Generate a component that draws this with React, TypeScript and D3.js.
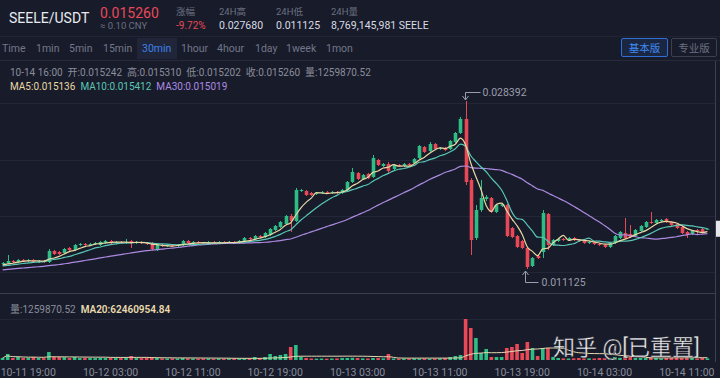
import React from 'react';
import * as d3 from 'd3';

// Prices in 1e-6 USDT (30-min candles, 10-11 16:30 .. 10-14 13:00)
// closes before the first visible candle (only feed the moving averages)
const priorCloseE6 = [
  10420, 10510, 10460, 10580, 10640, 10600, 10710, 10760, 10820, 10790,
  10880, 10930, 10900, 10990, 11050, 11020, 11110, 11160, 11130, 11220,
  11280, 11250, 11340, 11390, 11370, 11450, 11510, 11480, 11560,
];
const openE6 = [
  11639, 11742, 11947, 11845, 12050, 11947, 12050, 11845, 11947, 11845,
  12975, 12873, 12770, 13284, 13078, 13592, 13695, 13592, 13695, 13592,
  13798, 14003, 13798, 13901, 13798, 14003, 13798, 13901, 13798, 13798,
  13078, 13592, 13489, 13592, 13489, 13592, 14003, 13798, 13901, 13798,
  13695, 13901, 13798, 13901, 13798, 13901, 13798, 14003, 14312, 14209,
  14517, 14415, 14620, 15134, 15443, 15751, 16573, 16059, 19143, 19143,
  18938, 18835, 18938, 19041, 18938, 19041, 18938, 19246, 20069, 20994,
  20377, 20891, 20583, 22330, 21714, 21919, 21405, 21817, 21714, 21919,
  22022, 22536, 23667, 23255, 23975, 23461, 23564, 23461, 24180, 25106,
  26545, 20274, 14312, 17190, 18321, 18424, 16985, 17601, 17704, 15340,
  14517, 14003, 13284, 11433, 12461, 12873, 16779, 13592, 14003, 14209,
  14106, 14312, 14106, 14106, 13798, 13901, 13695, 13592, 13387, 13798,
  14312, 14826, 14723, 14517, 15031, 15443, 15957, 15854, 16059, 16265,
  15957, 15751, 15443, 14929, 14723, 15134, 15237, 15242,
];
const highE6 = [
  11845, 12564, 12050, 12153, 12153, 12153, 12153, 12050, 12050, 13181,
  13078, 12975, 13284, 13387, 13695, 13798, 13798, 13798, 13901, 14003,
  14106, 14106, 14003, 14003, 14209, 14106, 14003, 14003, 13901, 13901,
  13695, 13695, 13695, 13695, 13695, 14106, 14106, 14003, 14003, 13901,
  14003, 14003, 14003, 14003, 14003, 14003, 14106, 14415, 14415, 14620,
  14620, 14929, 15340, 15648, 16059, 16676, 16779, 19452, 19349, 19246,
  19041, 19041, 19143, 19143, 19143, 19143, 19349, 20171, 21508, 21097,
  20891, 20994, 22844, 22433, 22022, 22125, 21919, 21919, 22022, 22022,
  22536, 23872, 23769, 24180, 24078, 23667, 23667, 24386, 25209, 26751,
  28392, 20480, 17704, 20274, 18732, 18527, 17807, 17910, 17807, 15443,
  14620, 14106, 13387, 12359, 12564, 17190, 16882, 14209, 14312, 14312,
  14415, 14415, 14209, 14209, 14003, 14003, 13798, 13695, 13901, 14620,
  15031, 16368, 15648, 15237, 15648, 16059, 16985, 16265, 16265, 16368,
  16059, 15854, 15545, 15031, 15134, 15237, 15340, 15310,
];
const lowE6 = [
  11536, 11639, 11742, 11742, 11845, 11845, 11742, 11742, 11742, 11742,
  12564, 12564, 12667, 12975, 12975, 13489, 13489, 13489, 13592, 13489,
  13695, 13695, 13695, 13695, 13695, 13284, 13695, 13695, 13592, 13078,
  12975, 13387, 13387, 13387, 13387, 13489, 13695, 13695, 13695, 13592,
  13592, 13695, 13695, 13695, 13695, 13695, 13695, 13901, 14106, 14106,
  14312, 14312, 14517, 15031, 15340, 15648, 14929, 15957, 19041, 18629,
  18629, 18732, 18835, 18835, 18835, 18835, 18835, 19143, 19966, 20274,
  20274, 20377, 20480, 21714, 21611, 20994, 21302, 21611, 21611, 21714,
  21919, 22433, 23050, 23153, 23358, 23358, 23255, 23358, 24078, 25003,
  19760, 12564, 14106, 16985, 18115, 16882, 16882, 17498, 14415, 14312,
  13284, 13181, 11125, 11331, 12153, 12256, 13078, 13489, 13901, 14003,
  14003, 14003, 13901, 13695, 13695, 13592, 13489, 13284, 13284, 13695,
  14209, 14209, 14312, 14415, 14929, 15340, 15751, 15751, 15957, 15854,
  15545, 15237, 14723, 14312, 14620, 14723, 14723, 15202,
];
const closeE6 = [
  11742, 11947, 11845, 12050, 11947, 12050, 11845, 11947, 11845, 12975,
  12667, 12667, 13181, 13078, 13592, 13695, 13592, 13695, 13798, 13901,
  14003, 13798, 13901, 13798, 13901, 13798, 13901, 13798, 13695, 13181,
  13592, 13489, 13592, 13489, 13592, 14003, 13798, 13901, 13798, 13695,
  13901, 13798, 13901, 13798, 13901, 13798, 14003, 14312, 14209, 14517,
  14415, 14826, 15237, 15545, 15957, 16573, 16059, 19246, 19246, 18732,
  18732, 18938, 19041, 18938, 19041, 18938, 19246, 20069, 21097, 20377,
  20788, 20480, 22536, 21817, 21919, 21200, 21817, 21714, 21919, 21817,
  22433, 23769, 23153, 23975, 23461, 23564, 23358, 24283, 25106, 26545,
  20069, 14106, 17190, 18424, 18527, 16985, 17704, 17807, 14517, 14415,
  13387, 13284, 11331, 12256, 12256, 16882, 13592, 14106, 14209, 14106,
  14312, 14106, 14003, 13798, 13901, 13695, 13592, 13387, 13798, 14517,
  14929, 14312, 14415, 15134, 15545, 15957, 15854, 16162, 16162, 15957,
  15648, 15340, 14826, 14620, 15031, 15031, 14929, 15260,
];
// Volume in millions of SEELE
const volumeM = [
  73, 220, 73, 110, 73, 80, 110, 73, 70, 293,
  110, 110, 105, 73, 110, 73, 80, 73, 70, 80,
  73, 80, 73, 70, 73, 146, 73, 70, 80, 110,
  73, 60, 55, 60, 55, 73, 60, 55, 50, 55,
  55, 50, 55, 50, 55, 60, 55, 60, 73, 110,
  73, 110, 220, 146, 183, 220, 476, 549, 110, 73,
  55, 50, 55, 50, 55, 60, 73, 73, 80, 73,
  60, 55, 73, 73, 60, 220, 55, 50, 55, 50,
  60, 55, 60, 50, 55, 60, 73, 110, 146, 183,
  1500, 1171, 805, 256, 403, 110, 110, 110, 439, 476,
  586, 256, 659, 439, 146, 439, 439, 110, 73, 60,
  55, 60, 73, 55, 60, 55, 73, 60, 73, 110,
  80, 146, 110, 73, 80, 73, 110, 73, 60, 73,
  80, 110, 73, 110, 73, 60, 73, 60,
];

const tickIndex = [5, 21, 37, 53, 69, 85, 101, 117, 133];
const tickLabels = [
  '10-11 19:00', '10-12 03:00', '10-12 11:00', '10-12 19:00', '10-13 03:00',
  '10-13 11:00', '10-13 19:00', '10-14 03:00', '10-14 11:00',
];
const gridPrices = [0.01082, 0.01657, 0.02233, 0.02819];
const intervals = ['Time', '1min', '5min', '15min', '30min', '1hour', '4hour', '1day', '1week', '1mon'];
const intervalX = [2, 36, 69, 103, 142, 181, 217, 255, 286, 326];

const BG = '#181b2a';
const UP = '#2ebd85';
const DOWN = '#e94957';
const MA5C = '#e8d8a4';
const MA10C = '#58c7b5';
const MA30C = '#ad8ae2';
const FONT = "Roboto, 'Noto Sans CJK SC', 'Noto Sans', sans-serif";

export default function App() {
  const opens = openE6.map((v) => v / 1e6);
  const highs = highE6.map((v) => v / 1e6);
  const lows = lowE6.map((v) => v / 1e6);
  const closes = closeE6.map((v) => v / 1e6);
  const prior = priorCloseE6.map((v) => v / 1e6);
  const n = closes.length;
  const idx = d3.range(n);

  const x = d3.scaleBand<number>().domain(idx).range([0, 710]).paddingInner(0.3).paddingOuter(0.15);
  const bw = x.bandwidth();
  const cx = (i: number) => (x(i) as number) + bw / 2;
  const y = d3.scaleLinear().domain([0.011125, 0.028392]).range([269, 101]);
  const yv = d3.scaleLinear().domain([0, d3.max(volumeM) as number]).range([360, 319]);

  // moving average over the full series (prior + visible), returned for visible candles
  const maWithPrior = (arr: number[], pre: number[], k: number) => {
    const all = pre.concat(arr);
    const off = pre.length;
    return arr.map((_, i) => {
      const end = off + i + 1;
      return d3.mean(all.slice(Math.max(0, end - k), end)) as number;
    });
  };
  const priceLine = d3
    .line<number>()
    .x((_, i) => cx(i))
    .y((v) => y(v))
    .curve(d3.curveMonotoneX);
  const volLine = d3
    .line<number>()
    .x((_, i) => cx(i))
    .y((v) => yv(v))
    .curve(d3.curveMonotoneX);

  const ma5 = maWithPrior(closes, prior, 5);
  const ma10 = maWithPrior(closes, prior, 10);
  const ma30 = maWithPrior(closes, prior, 30);
  const vma20 = maWithPrior(volumeM, [], 20);

  const hiI = d3.maxIndex(highs);
  const loI = d3.minIndex(lows);
  const last = n - 1;
  const hx = Math.round(cx(hiI)) - 0.5;
  const lx = Math.round(cx(loI)) - 1.5;

  return (
    <div style={{ position: 'fixed', left: 0, top: 0, width: 720, height: 378, background: BG }}>
      <svg width={720} height={378} style={{ display: 'block', fontFamily: FONT }}>
        <rect x={0} y={0} width={720} height={378} fill={BG} />
        {/* header */}
        <text x={9} y={23} fontSize={14} fill="#e9ebf1">SEELE/USDT</text>
        <text x={100} y={18} fontSize={14} fill={DOWN}>0.015260</text>
        <text x={100} y={29} fontSize={9.5} fill="#6b7080">≈ 0.10 CNY</text>
        <text x={176} y={15} fontSize={9.5} fill="#6b7080">涨幅</text>
        <text x={176} y={29} fontSize={10} fill={DOWN}>-9.72%</text>
        <text x={219} y={15} fontSize={9.5} fill="#6b7080">24H高</text>
        <text x={219} y={29} fontSize={10.5} fill="#d9dce4">0.027680</text>
        <text x={276} y={15} fontSize={9.5} fill="#6b7080">24H低</text>
        <text x={276} y={29} fontSize={10.5} fill="#d9dce4">0.011125</text>
        <text x={331} y={15} fontSize={9.5} fill="#6b7080">24H量</text>
        <text x={331} y={29} fontSize={10.5} fill="#d9dce4">8,769,145,981 SEELE</text>

        {/* toolbar */}
        <line x1={0} x2={720} y1={36.5} y2={36.5} stroke="#202434" />
        <rect x={137} y={38} width={40} height={21} fill="#20253a" />
        {intervals.map((t, i) => (
          <text key={t} x={intervalX[i]} y={52} fontSize={10.5} fill={t === '30min' ? '#3d82e6' : '#727789'}>
            {t}
          </text>
        ))}
        <rect x={621.5} y={38.5} width={46} height={18} fill="#1b2640" stroke="#2f6fd8" rx={1.5} />
        <text x={644.5} y={51.5} fontSize={10.5} fill="#3f8af2" textAnchor="middle">基本版</text>
        <rect x={671.5} y={38.5} width={45} height={18} fill="none" stroke="#3a3f52" rx={1.5} />
        <text x={694} y={51.5} fontSize={10.5} fill="#6b7080" textAnchor="middle">专业版</text>
        <line x1={0} x2={720} y1={60.5} y2={60.5} stroke="#262a3b" />

        {/* grid */}
        {gridPrices.map((p) => (
          <line key={p} x1={0} x2={715} y1={Math.round(y(p)) + 0.5} y2={Math.round(y(p)) + 0.5} stroke="#222637" />
        ))}
        <line x1={0} x2={715} y1={319.5} y2={319.5} stroke="#222637" />
        <line x1={0} x2={715} y1={293.5} y2={293.5} stroke="#3a3f51" />
        <line x1={715.5} x2={715.5} y1={61} y2={362} stroke="#3a3f51" />

        {/* info */}
        <text x={10} y={76} fontSize={10} fill="#8a8e9b">
          10-14 16:00{'\u00a0\u00a0'}开:0.015242{'\u00a0\u00a0'}高:0.015310{'\u00a0\u00a0'}低:0.015202{'\u00a0\u00a0'}收:0.015260{'\u00a0\u00a0'}量:1259870.52
        </text>
        <text x={10} y={90} fontSize={10}>
          <tspan fill={MA5C}>MA5:0.015136</tspan>
          <tspan fill={MA10C} dx={5}>MA10:0.015412</tspan>
          <tspan fill={MA30C} dx={5}>MA30:0.015019</tspan>
        </text>

        {/* candles */}
        {idx.map((i) => {
          const up = closes[i] >= opens[i];
          const c = up ? UP : DOWN;
          const top = y(Math.max(opens[i], closes[i]));
          const bot = y(Math.min(opens[i], closes[i]));
          const xc = Math.round(cx(i)) + 0.5;
          return (
            <g key={i}>
              <line x1={xc} x2={xc} y1={y(highs[i])} y2={y(lows[i])} stroke={c} strokeWidth={1} />
              <rect x={xc - bw / 2} y={top} width={bw} height={Math.max(1, bot - top)} fill={c} />
            </g>
          );
        })}

        {/* MA lines */}
        <path d={priceLine(ma30) || ''} fill="none" stroke={MA30C} strokeWidth={1.2} />
        <path d={priceLine(ma10) || ''} fill="none" stroke={MA10C} strokeWidth={1.2} />
        <path d={priceLine(ma5) || ''} fill="none" stroke={MA5C} strokeWidth={1.2} />

        {/* high / low markers */}
        <g stroke="#9a9eaa" fill="none" strokeWidth={1}>
          <path d={`M${hx + 15},92.5H${hx}V${y(highs[hiI]) - 1}`} />
          <path d={`M${hx - 3},${y(highs[hiI]) - 5}L${hx},${y(highs[hiI]) - 1}L${hx + 3},${y(highs[hiI]) - 5}`} />
          <path d={`M${lx + 13},282.5H${lx}V${y(lows[loI]) + 2}`} />
          <path d={`M${lx - 3},${y(lows[loI]) + 6}L${lx},${y(lows[loI]) + 2}L${lx + 3},${y(lows[loI]) + 6}`} />
        </g>
        <text x={hx + 17} y={96} fontSize={10.5} fill="#9a9eaa">{highs[hiI].toFixed(6)}</text>
        <text x={lx + 16} y={286} fontSize={10.5} fill="#9a9eaa">{lows[loI].toFixed(6)}</text>

        {/* last price tag */}
        <rect x={716} y={y(closes[last]) - 8} width={8} height={16} fill="#e4e6ec" />

        {/* volume */}
        <text x={10} y={313} fontSize={10}>
          <tspan fill="#8a8e9b">量:1259870.52</tspan>
          <tspan fill="#eadcae" dx={5} fontWeight={600}>MA20:62460954.84</tspan>
        </text>
        {idx.map((i) => {
          const up = closes[i] >= opens[i];
          const top = yv(volumeM[i]);
          return (
            <rect key={i} x={cx(i) - bw / 2} y={top} width={bw} height={360 - top} fill={up ? UP : DOWN} />
          );
        })}
        <path d={volLine(vma20) || ''} fill="none" stroke="#e6d9b0" strokeWidth={1} />

        {/* x axis */}
        {tickIndex.map((ti, k) => (
          <text key={ti} x={cx(ti)} y={375.5} fontSize={10.5} fill="#878b99" textAnchor="middle">
            {tickLabels[k]}
          </text>
        ))}

        {/* watermark */}
        <text x={553} y={355} fontSize={22} fill="#f4f4f6" stroke="#20222c" strokeWidth={0.4}>
          知乎 @[已重置]
        </text>
      </svg>
    </div>
  );
}
